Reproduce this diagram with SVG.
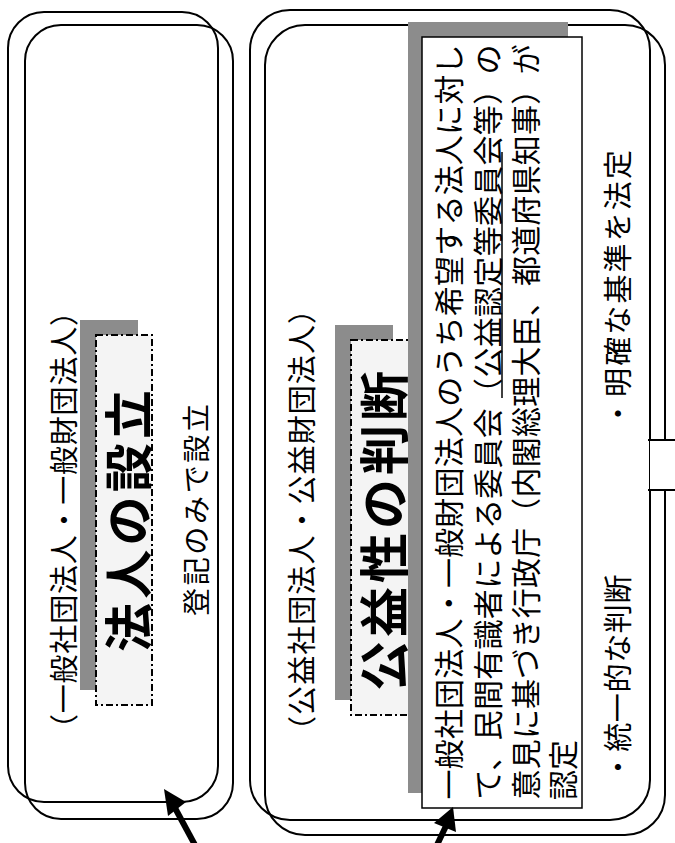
<svg xmlns="http://www.w3.org/2000/svg" width="675" height="843" viewBox="0 0 675 843">
<style>
.frame{fill:none;stroke:#000;stroke-width:2}
.shadow{fill:#8c8c8c}
.dash{fill:#f4f4f4;stroke:#000;stroke-width:2;stroke-dasharray:7 3 2 3}
.t{font-family:"Noto Sans CJK JP","Noto Sans",sans-serif;fill:#000;dominant-baseline:central;text-anchor:middle}
.big{font-weight:bold}
.ln{stroke:#000;stroke-width:1.5;fill:none}
</style>
<rect width="675" height="843" fill="#fff"/>
<g id="left-panel">
  <rect class="frame" x="8" y="12" width="210" height="790" rx="36"/>
  <rect class="frame" x="25" y="25" width="208" height="794" rx="36"/>
  <text class="t" font-size="29" transform="translate(62,520) rotate(-90)" textLength="446" lengthAdjust="spacing">（一般社団法人・一般財団法人）</text>
  <g id="title-left">
    <rect class="shadow" x="80" y="320" width="58" height="370"/>
    <rect class="dash" x="96" y="335" width="56" height="370"/>
    <text class="t big" font-size="49" transform="translate(125,521) rotate(-90)" textLength="262" lengthAdjust="spacing">法人の設立</text>
  </g>
  <text class="t" font-size="28" transform="translate(195,510) rotate(-90)" textLength="212" lengthAdjust="spacing">登記のみで設立</text>
</g>
<g id="right-panel">
  <rect class="frame" x="250" y="10" width="400" height="810" rx="40"/>
  <rect class="frame" x="265" y="25" width="400" height="810" rx="40"/>
  <text class="t" font-size="29" transform="translate(300,520) rotate(-90)" textLength="450" lengthAdjust="spacing">（公益社団法人・公益財団法人）</text>
  <g id="title-right">
    <rect class="shadow" x="335" y="325" width="58" height="375"/>
    <rect class="dash" x="351" y="340" width="58" height="375"/>
    <text class="t big" font-size="50" transform="translate(381,531) rotate(-90)" textLength="320" lengthAdjust="spacing">公益性の判断</text>
  </g>
  <g id="desc-box">
    <rect class="shadow" x="408" y="22" width="160" height="771"/>
    <rect x="422" y="37" width="160" height="771" fill="#fff" stroke="#000" stroke-width="1.5"/>
    <text class="t" font-size="30" transform="translate(447,422) rotate(-90)" textLength="755" lengthAdjust="spacing">一般社団法人・一般財団法人のうち希望する法人に対し</text>
    <text class="t" font-size="30" transform="translate(486,422) rotate(-90)" textLength="755" lengthAdjust="spacing">て、民間有識者による委員会（公益認定等委員会等）の</text>
    <line class="ln" x1="502" y1="152" x2="502" y2="398"/>
    <text class="t" font-size="30" transform="translate(524,422) rotate(-90)" textLength="755" lengthAdjust="spacing">意見に基づき行政庁（内閣総理大臣、都道府県知事）が</text>
    <text class="t" font-size="30" transform="translate(561,770) rotate(-90)" textLength="60" lengthAdjust="spacing">認定</text>
  </g>
  <text class="t" font-size="29" transform="translate(616,678) rotate(-90)" textLength="207" lengthAdjust="spacing">・統一的な判断</text>
  <text class="t" font-size="29" transform="translate(616,289) rotate(-90)" textLength="278" lengthAdjust="spacing">・明確な基準を法定</text>
</g>
<g id="connectors">
  <rect x="650" y="441" width="26" height="48" fill="#fff"/>
  <path class="frame" d="M676,440 H648 M648,490 H676"/>
  <line x1="195" y1="845" x2="175" y2="808" stroke="#000" stroke-width="6"/>
  <polygon points="164,789 186,802 168,816" fill="#000"/>
  <line x1="437" y1="845" x2="446" y2="826" stroke="#000" stroke-width="6"/>
  <polygon points="453,807 456,832 434,823" fill="#000"/>
</g>
</svg>
